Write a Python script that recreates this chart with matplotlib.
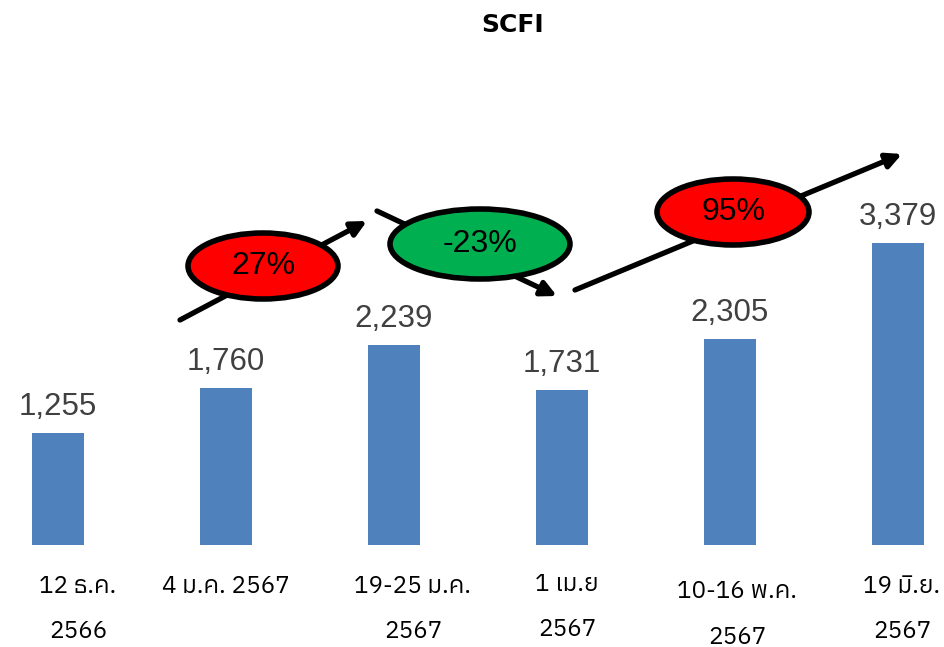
import matplotlib
matplotlib.use("Agg")
import matplotlib.pyplot as plt
from matplotlib import font_manager
from matplotlib.ft2font import FT2Font
from matplotlib.patches import Ellipse

# data
dates = ["12 ธ.ค.\n2566", "4 ม.ค. 2567", "19-25 ม.ค.\n2567", "1 เม.ย\n2567",
         "10-16 พ.ค.\n2567", "19 มิ.ย.\n2567"]
scfi = [1255, 1760, 2239, 1731, 2305, 3379]
changes = ["27%", "-23%", "95%"]
change_colors = ["#FF0000", "#00B050", "#FF0000"]

# small hand placement of the category labels (pixels)
label_dx = [20, 0, 19, 5, 7, 4]
label_dy = [0, 0, 0, -2, 5, 0]


def find_thai_fonts():
    found = []
    for f in font_manager.fontManager.ttflist:
        try:
            ft = FT2Font(f.fname)
            if ft.get_char_index(ord("ค")):
                found.append(f.name)
        except Exception:
            pass
    return sorted(set(found))


thai = find_thai_fonts()
pick = [n for n in ["IBM Plex Sans Thai", "Anuphan"] if n in thai] or thai[:1]
label_family = pick[:1] + ["DejaVu Sans"]

fig = plt.figure(figsize=(9.45, 6.47), dpi=100)
ax = fig.add_axes([0, 0, 1, 1])
ax.axis("off")

x = list(range(len(scfi)))
scale = 302 / 3379  # pixels per unit
ax.set_xlim(-58 / 168, (945 - 58) / 168)
ax.set_ylim(-102 / scale, 545 / scale)

ax.bar(x, scfi, width=52 / 168, color="#4F81BD")
for xi, v in zip(x, scfi):
    ax.text(xi, v + 11 / scale, f"{v:,}", ha="center", va="bottom",
            fontsize=22.5, color="#404040", family="Liberation Sans")

for xi, lab, dx, dy in zip(x, dates, label_dx, label_dy):
    ax.text(xi + dx / 168, -(30 + dy) / scale, lab, ha="center", va="top",
            fontsize=17.5, family=label_family, linespacing=2.25)

fig.text(0.542, 0.962, "SCFI", ha="center", va="center", fontsize=18,
         fontweight="bold", family="Liberation Sans Narrow")


# trend arrows and change bubbles (pixel coords from top-left)
def px(xp, yp):
    return ((xp - 58) / 168, (545 - yp) / scale)


arrows = [((180, 320), (367, 221)), ((377, 211), (557, 296)), ((575, 290), (902, 154))]
for (a, b) in arrows:
    ax.annotate("", xy=px(*b), xytext=px(*a),
                arrowprops=dict(arrowstyle="-|>,head_length=0.9,head_width=0.45",
                                lw=3.8, color="black", shrinkA=0, shrinkB=0))

bubbles = [(263, 266, 150, 66), (480, 244, 180, 70), (733, 212, 152, 66)]
for (cx, cy, w, h), txt, col in zip(bubbles, changes, change_colors):
    e = Ellipse(px(cx, cy), w / 168, h / scale, facecolor=col,
                edgecolor="black", lw=4, zorder=5)
    ax.add_patch(e)
    ax.text(*px(cx, cy), txt, ha="center", va="center", fontsize=23,
            family="Liberation Sans", zorder=6)

fig.savefig("out.png", dpi=100)
